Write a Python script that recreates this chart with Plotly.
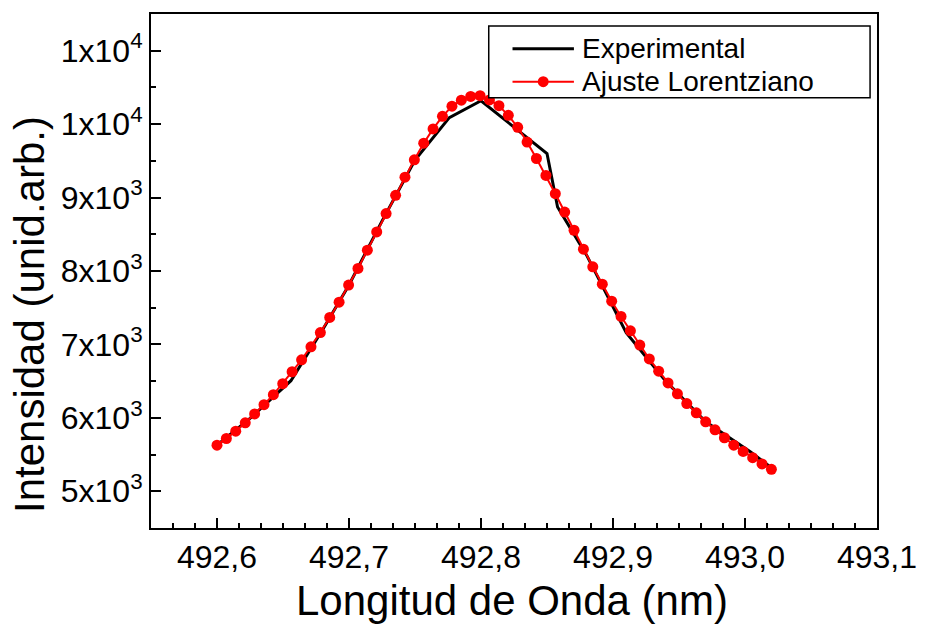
import plotly.graph_objects as go

# Experimental spectrum (nm, arb. units)
exp_x = [492.600, 492.625, 492.656, 492.680, 492.700, 492.725, 492.750, 492.776,
         492.800, 492.850, 492.858, 492.880, 492.910, 492.940, 492.970, 493.004, 493.020]
exp_y = [5628, 5993, 6506, 7200, 7810, 8680, 9510, 10088,
         10319, 9600, 8871, 8216, 7160, 6500, 5950, 5540, 5320]

# Lorentzian fit points
fit_x = [492.6000, 492.6071, 492.6142, 492.6214, 492.6285, 492.6356, 492.6427, 492.6498,
         492.6569, 492.6641, 492.6712, 492.6783, 492.6854, 492.6925, 492.6997, 492.7068,
         492.7139, 492.7210, 492.7281, 492.7353, 492.7424, 492.7495, 492.7566, 492.7637,
         492.7708, 492.7780, 492.7851, 492.7922, 492.7993, 492.8064, 492.8136, 492.8207,
         492.8278, 492.8349, 492.8420, 492.8492, 492.8563, 492.8634, 492.8705, 492.8776,
         492.8847, 492.8919, 492.8990, 492.9061, 492.9132, 492.9203, 492.9275, 492.9346,
         492.9417, 492.9488, 492.9559, 492.9631, 492.9702, 492.9773, 492.9844, 492.9915,
         492.9986, 493.0058, 493.0129, 493.0200]
fit_y = [5628, 5719, 5818, 5932, 6054, 6180, 6316, 6465, 6628, 6791,
         6968, 7162, 7368, 7575, 7809, 8035, 8284, 8532, 8782, 9030,
         9278, 9514, 9740, 9935, 10106, 10244, 10326, 10377, 10387, 10329,
         10251, 10120, 9957, 9756, 9532, 9301, 9053, 8803, 8555, 8297,
         8057, 7820, 7589, 7381, 7185, 6991, 6802, 6635, 6475, 6327,
         6194, 6068, 5946, 5837, 5729, 5628, 5543, 5457, 5373, 5299]

series_names = ["Experimental", "Ajuste Lorentziano"]
x_title = "Longitud de Onda (nm)"
y_title = "Intensidad (unid.arb.)"
x_tickvals = [492.6, 492.7, 492.8, 492.9, 493.0, 493.1]
x_ticktext = ["492,6", "492,7", "492,8", "492,9", "493,0", "493,1"]
y_tickvals = [5000, 6000, 7000, 8000, 9000, 10000, 11000]
y_ticktext = ["5x10<sup>3</sup>", "6x10<sup>3</sup>", "7x10<sup>3</sup>", "8x10<sup>3</sup>",
              "9x10<sup>3</sup>", "1x10<sup>4</sup>", "1x10<sup>4</sup>"]

FONT = "Liberation Sans, Arial, sans-serif"
RED = "#ff0000"

fig = go.Figure()
fig.add_trace(go.Scatter(x=exp_x, y=exp_y, mode="lines", name=series_names[0],
                         line=dict(color="black", width=3), showlegend=False))
fig.add_trace(go.Scatter(x=fit_x, y=fit_y, mode="lines+markers", name=series_names[1],
                         line=dict(color=RED, width=2),
                         marker=dict(color=RED, size=11, line=dict(width=0)),
                         showlegend=False))

# Plot area in pixels: x 151..884, y 12..528
W_PLOT, H_PLOT = 733.0, 516.0
def px(xp):
    return (xp - 151) / W_PLOT
def py(yp):
    return (528 - yp) / H_PLOT

shapes = [
    # legend frame
    dict(type="rect", xref="paper", yref="paper", x0=px(492), x1=px(877), y0=py(96), y1=py(24),
         line=dict(color="black", width=1.5), fillcolor="white", layer="above"),
    # experimental sample
    dict(type="line", xref="paper", yref="paper", x0=px(516), x1=px(578), y0=py(47), y1=py(47),
         line=dict(color="black", width=3), layer="above"),
    # fit sample
    dict(type="line", xref="paper", yref="paper", x0=px(516), x1=px(578), y0=py(80), y1=py(80),
         line=dict(color=RED, width=2), layer="above"),
    dict(type="circle", xref="paper", yref="paper", x0=px(541.5), x1=px(552.5),
         y0=py(85.5), y1=py(74.5), line=dict(color=RED, width=0), fillcolor=RED, layer="above"),
]

annotations = [
    dict(text=series_names[0], xref="paper", yref="paper", x=px(584), y=py(47),
         xanchor="left", yanchor="middle", showarrow=False, font=dict(size=28, family=FONT)),
    dict(text=series_names[1], xref="paper", yref="paper", x=px(584), y=py(80),
         xanchor="left", yanchor="middle", showarrow=False, font=dict(size=28, family=FONT)),
    dict(text=x_title, xref="paper", yref="paper", x=px(515), y=py(601),
         xanchor="center", yanchor="middle", showarrow=False, font=dict(size=42, family=FONT)),
    dict(text=y_title, xref="paper", yref="paper", x=px(29), y=py(314), textangle=-90,
         xanchor="center", yanchor="middle", showarrow=False, font=dict(size=42, family=FONT)),
]

fig.update_layout(
    width=929, height=625,
    margin=dict(l=151, r=45, t=12, b=97),
    plot_bgcolor="white", paper_bgcolor="white",
    font=dict(family=FONT, color="black"),
    showlegend=False,
    shapes=shapes,
    annotations=annotations,
)
fig.update_xaxes(
    range=[492.55, 493.1], showgrid=False, zeroline=False,
    showline=True, linecolor="black", linewidth=2, mirror=True,
    ticks="inside", ticklen=10, tickwidth=2, tickcolor="black",
    tickvals=x_tickvals, ticktext=x_ticktext,
    tickfont=dict(size=32, family=FONT),
    minor=dict(ticks="inside", ticklen=5, tickwidth=2, tickcolor="black",
               tick0=492.6, dtick=0.1 / 6),
)
fig.update_yaxes(
    range=[4500, 11500], showgrid=False, zeroline=False,
    showline=True, linecolor="black", linewidth=2, mirror=True,
    ticks="inside", ticklen=10, tickwidth=2, tickcolor="black",
    tickvals=y_tickvals, ticktext=y_ticktext,
    tickfont=dict(size=32, family=FONT),
    minor=dict(ticks="inside", ticklen=5, tickwidth=2, tickcolor="black",
               tick0=4500, dtick=1000),
)

fig.write_html("out.html")
